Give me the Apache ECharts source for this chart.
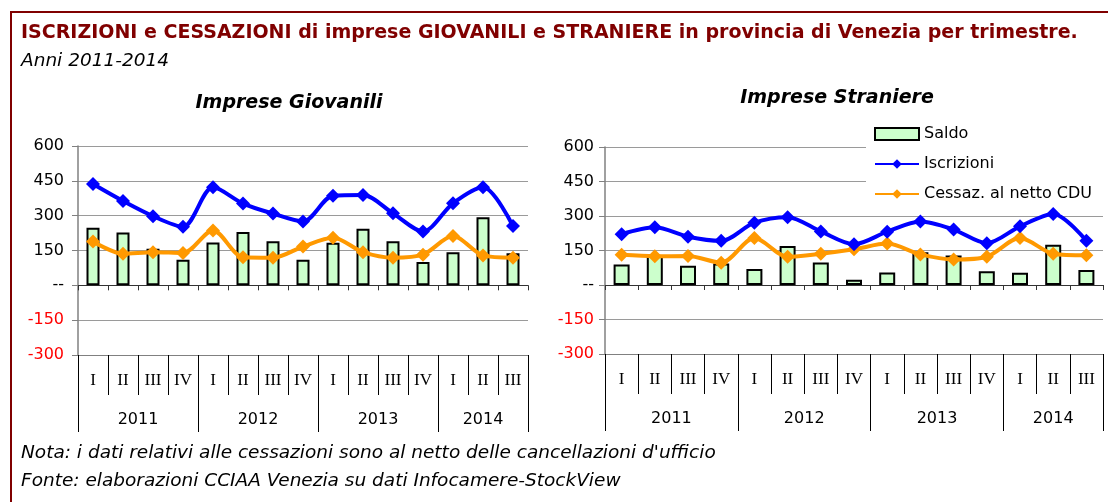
<!DOCTYPE html>
<html>
<head>
<meta charset="utf-8">
<script src="https://cdn.jsdelivr.net/npm/echarts@6/dist/echarts.min.js"></script>
<style>
  html, body { margin: 0; padding: 0; background: #fff; }
  #chart { width: 1108px; height: 502px; }
</style>
</head>
<body>
<div id="chart"></div>
<script>
// trimestri e anni
var quarters = ['I', 'II', 'III', 'IV', 'I', 'II', 'III', 'IV', 'I', 'II', 'III', 'IV', 'I', 'II', 'III'];
var years = ['2011', '2012', '2013', '2014'];

// Imprese giovanili
var giovSaldo = [248, 228, 157, 110, 184, 230, 190, 110, 183, 244, 190, 100, 143, 293, 138];
var giovIscr  = [436, 363, 298, 252, 422, 352, 309, 275, 386, 389, 310, 232, 353, 422, 255];
var giovCess  = [189, 136, 143, 139, 236, 121, 119, 167, 205, 143, 119, 132, 212, 129, 119];

// Imprese straniere
var stranSaldo = [89, 126, 84, 94, 70, 170, 98, 23, 54, 142, 128, 60, 53, 175, 65];
var stranIscr  = [221, 251, 210, 192, 271, 295, 233, 177, 232, 276, 241, 182, 255, 309, 192];
var stranCess  = [131, 125, 126, 97, 204, 123, 136, 155, 180, 133, 111, 123, 204, 136, 129];

// asse y
var yTicks = [-300, -150, 0, 150, 300, 450, 600];

// confini degli anni (dove inizia un trimestre "I") e centri delle etichette
var yearBounds = [];
quarters.forEach(function (q, i) { if (q === 'I') yearBounds.push(i); });
yearBounds.push(quarters.length);
var yearCenters = [];
for (var i = 0; i < yearBounds.length - 1; i++) {
    yearCenters.push((yearBounds[i] + yearBounds[i + 1]) / 2);
}

var FONT = 'DejaVu Sans';
var grids = [
    { left: 78, top: 146, width: 450, height: 209 },
    { left: 605, top: 147, width: 498, height: 207 }
];

function xAxesFor(gi) {
    return [
        {   // trimestri
            type: 'category', gridIndex: gi, position: 'bottom', data: quarters,
            axisLine: { onZero: false, lineStyle: { color: '#808080', width: 1 } },
            axisTick: { show: true, interval: 0, length: 40, lineStyle: { color: '#000' } },
            axisLabel: { interval: 0, margin: 17, fontFamily: 'Liberation Serif', fontSize: 17, color: '#000' },
            splitLine: { show: false }
        },
        {   // anni
            type: 'value', gridIndex: gi, position: 'bottom', min: 0, max: quarters.length,
            axisLine: { show: false, onZero: false },
            axisTick: { show: true, customValues: yearBounds, length: 77, lineStyle: { color: '#000' } },
            axisLabel: {
                customValues: yearCenters, margin: 57, fontFamily: FONT, fontSize: 16, color: '#000',
                formatter: function (v) { return years[yearCenters.indexOf(v)]; }
            },
            splitLine: { show: false }
        },
        {   // linea dello zero
            type: 'category', gridIndex: gi, position: 'bottom', data: quarters,
            axisLine: { onZero: true, lineStyle: { color: '#333', width: 1 } },
            axisTick: { show: true, interval: 0, length: 5, lineStyle: { color: '#333' } },
            axisLabel: { show: false },
            splitLine: { show: false }
        }
    ];
}

function yAxisFor(gi, margin) {
    return {
        type: 'value', gridIndex: gi, min: yTicks[0], max: yTicks[yTicks.length - 1], interval: 150,
        axisLine: { show: true, onZero: false, lineStyle: { color: '#808080', width: 1.5 } },
        axisTick: { show: true, length: 6, lineStyle: { color: '#808080' } },
        axisLabel: {
            margin: margin, fontFamily: FONT, fontSize: 16,
            color: function (v) { return Number(v) < 0 ? '#ff0000' : '#000'; },
            formatter: function (v) { return v === 0 ? '--' : v; }
        },
        splitLine: { show: true, lineStyle: { color: '#9a9a9a', width: 1 } }
    };
}

function seriesFor(gi, saldo, iscr, cess, barW) {
    var xi = gi * 3;
    return [
        {
            name: 'Saldo', type: 'bar', xAxisIndex: xi, yAxisIndex: gi, data: saldo, barWidth: barW,
            itemStyle: { color: '#ccffcc', borderColor: '#000', borderWidth: 2 }, z: 2
        },
        {
            name: 'Iscrizioni', type: 'line', xAxisIndex: xi, yAxisIndex: gi, data: iscr, smooth: 0.3,
            symbol: 'diamond', symbolSize: 14, lineStyle: { color: '#0000ff', width: 4 },
            itemStyle: { color: '#0000ff' }, z: 4
        },
        {
            name: 'Cessaz. al netto CDU', type: 'line', xAxisIndex: xi, yAxisIndex: gi, data: cess, smooth: 0.3,
            symbol: 'diamond', symbolSize: 14, lineStyle: { color: '#ff9900', width: 4 },
            itemStyle: { color: '#ff9900' }, z: 3
        }
    ];
}

var myChart = echarts.init(document.getElementById('chart'), null, { renderer: 'canvas' });

var option = {
    backgroundColor: '#fff',
    animation: false,
    title: [
        {
            text: 'ISCRIZIONI e CESSAZIONI di imprese GIOVANILI e STRANIERE in provincia di Venezia per trimestre.',
            left: 21, top: 24, padding: 0,
            textStyle: { fontFamily: FONT, fontWeight: 'bold', fontSize: 19, color: '#800000' }
        },
        {
            text: 'Anni 2011-2014', left: 21, top: 52, padding: 0,
            textStyle: { fontFamily: FONT, fontStyle: 'italic', fontWeight: 'normal', fontSize: 18.5, color: '#000' }
        },
        {
            text: 'Imprese Giovanili', left: 289, top: 94, padding: 0, textAlign: 'center',
            textStyle: { fontFamily: FONT, fontStyle: 'italic', fontWeight: 'bold', fontSize: 19, color: '#000' }
        },
        {
            text: 'Imprese Straniere', left: 837, top: 89, padding: 0, textAlign: 'center',
            textStyle: { fontFamily: FONT, fontStyle: 'italic', fontWeight: 'bold', fontSize: 19, color: '#000' }
        },
        {
            text: "Nota: i dati relativi alle cessazioni sono al netto delle cancellazioni d'ufficio",
            left: 21, top: 444, padding: 0,
            textStyle: { fontFamily: FONT, fontStyle: 'italic', fontWeight: 'normal', fontSize: 18.5, color: '#000' }
        },
        {
            text: 'Fonte: elaborazioni CCIAA Venezia su dati Infocamere-StockView',
            left: 21, top: 472, padding: 0,
            textStyle: { fontFamily: FONT, fontStyle: 'italic', fontWeight: 'normal', fontSize: 18.5, color: '#000' }
        }
    ],
    legend: {
        orient: 'vertical', left: 866, top: 121,
        padding: [4, 14, 4, 8], backgroundColor: '#fff',
        itemWidth: 44, itemHeight: 12, itemGap: 12,
        textStyle: { fontFamily: FONT, fontSize: 16, color: '#000', lineHeight: 18 },
        data: [
            { name: 'Saldo', icon: 'rect' },
            { name: 'Iscrizioni' },
            { name: 'Cessaz. al netto CDU' }
        ],
        z: 10
    },
    grid: grids.map(function (g) {
        return { left: g.left, top: g.top, width: g.width, height: g.height, containLabel: false };
    }),
    xAxis: xAxesFor(0).concat(xAxesFor(1)),
    yAxis: [yAxisFor(0, 14), yAxisFor(1, 11)],
    series: seriesFor(0, giovSaldo, giovIscr, giovCess, 13)
        .concat(seriesFor(1, stranSaldo, stranIscr, stranCess, 16)),
    graphic: [
        { type: 'line', shape: { x1: 10, y1: 12, x2: 1108, y2: 12 }, style: { stroke: '#800000', lineWidth: 2 } },
        { type: 'line', shape: { x1: 11, y1: 11, x2: 11, y2: 502 }, style: { stroke: '#800000', lineWidth: 2 } }
    ]
};

myChart.setOption(option);
</script>
</body>
</html>
